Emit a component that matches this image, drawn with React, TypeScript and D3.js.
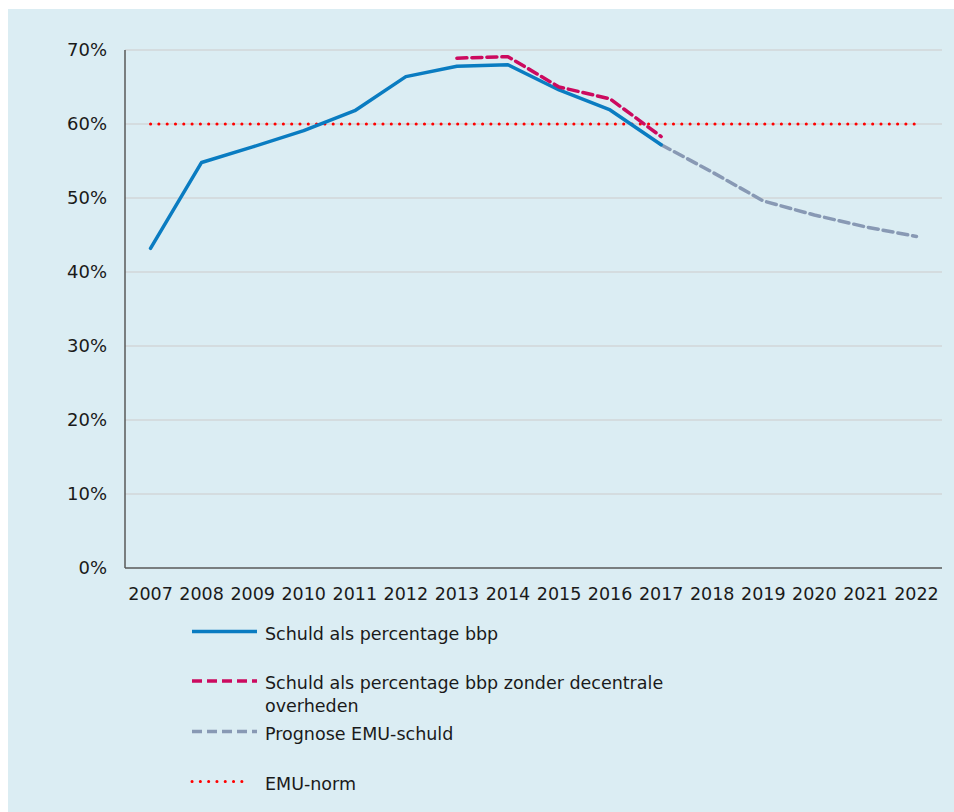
import React from "react";
import * as d3 from "d3";

const years = ["2007","2008","2009","2010","2011","2012","2013","2014","2015","2016","2017","2018","2019","2020","2021","2022"];
const schuld: (number | null)[] = [43.2, 54.8, 56.9, 59.1, 61.8, 66.4, 67.8, 68.0, 64.6, 61.9, 57.2, null, null, null, null, null];
const zonderDecentraal: (number | null)[] = [null, null, null, null, null, null, 68.9, 69.1, 65.0, 63.4, 58.3, null, null, null, null, null];
const prognose: (number | null)[] = [null, null, null, null, null, null, null, null, null, null, 57.2, 53.5, 49.6, 47.7, 46.1, 44.8];
const emuNorm: number[] = years.map(() => 60);
const yTicks = [0, 10, 20, 30, 40, 50, 60, 70];

const legendItems = [
  { lines: ["Schuld als percentage bbp"], color: "#0a7cc1", dash: "", width: 3.5, cap: "butt" },
  { lines: ["Schuld als percentage bbp zonder decentrale", "overheden"], color: "#cc0a5f", dash: "10 5", width: 3.5, cap: "butt" },
  { lines: ["Prognose EMU-schuld"], color: "#8899b4", dash: "10 5", width: 3.5, cap: "butt" },
  { lines: ["EMU-norm"], color: "#ff0000", dash: "0.1 8.2", width: 3, cap: "round" },
];

export default function App() {
  const W = 954, H = 812;
  const left = 125, right = 942, top = 50, bottom = 568;
  const x = d3.scaleBand<string>().domain(years).range([left, right]);
  const cx = (y: string) => (x(y) as number) + x.bandwidth() / 2;
  const y = d3.scaleLinear().domain([0, 70]).range([bottom, top]);
  const line = d3.line<number | null>()
    .defined((d) => d !== null)
    .x((_, i) => cx(years[i]))
    .y((d) => y(d as number));

  const font = "'DejaVu Sans', Verdana, sans-serif";
  const legendRows = [631.5, 681, 731.5, 781.5];

  return (
    <svg width={W} height={H} style={{ position: "absolute", left: 0, top: 0 }} fontFamily={font}>
      <rect x={8} y={9} width={W - 8} height={H - 9} fill="#dbedf3" />
      {yTicks.map((t) => (
        <g key={t}>
          {t > 0 && <line x1={left} x2={right} y1={y(t)} y2={y(t)} stroke="#d2d6d8" strokeWidth={1.5} />}
          <text x={107} y={y(t)} dy="0.36em" textAnchor="end" fontSize={18} fill="#1a1a1a">{t}%</text>
        </g>
      ))}
      <line x1={left} x2={left} y1={top} y2={bottom} stroke="#595959" strokeWidth={1.5} />
      <line x1={left} x2={right} y1={bottom} y2={bottom} stroke="#595959" strokeWidth={1.5} />
      {years.map((yr) => (
        <text key={yr} x={cx(yr)} y={600} textAnchor="middle" fontSize={17.5} fill="#1a1a1a">{yr}</text>
      ))}
      <path d={line(emuNorm) as string} fill="none" stroke="#ff0000" strokeWidth={3} strokeDasharray="0.1 8.2" strokeLinecap="round" />
      <path d={line(prognose) as string} fill="none" stroke="#8899b4" strokeWidth={3.5} strokeDasharray="10 5" strokeLinecap="round" strokeLinejoin="round" />
      <path d={line(schuld) as string} fill="none" stroke="#0a7cc1" strokeWidth={3.5} strokeLinejoin="round" strokeLinecap="round" />
      <path d={line(zonderDecentraal) as string} fill="none" stroke="#cc0a5f" strokeWidth={3.5} strokeDasharray="10 5" strokeLinecap="round" strokeLinejoin="round" />
      {legendItems.map((it, i) => (
        <g key={i}>
          <line x1={192} x2={i === 3 ? 250 : 257} y1={legendRows[i]} y2={legendRows[i]} stroke={it.color} strokeWidth={it.width}
            strokeDasharray={it.dash || undefined} strokeLinecap={it.cap as any} />
          {it.lines.map((l, j) => (
            <text key={j} x={265} y={legendRows[i] + 2 + j * 22.5} dy="0.36em" fontSize={17.5} fill="#1a1a1a">{l}</text>
          ))}
        </g>
      ))}
    </svg>
  );
}
